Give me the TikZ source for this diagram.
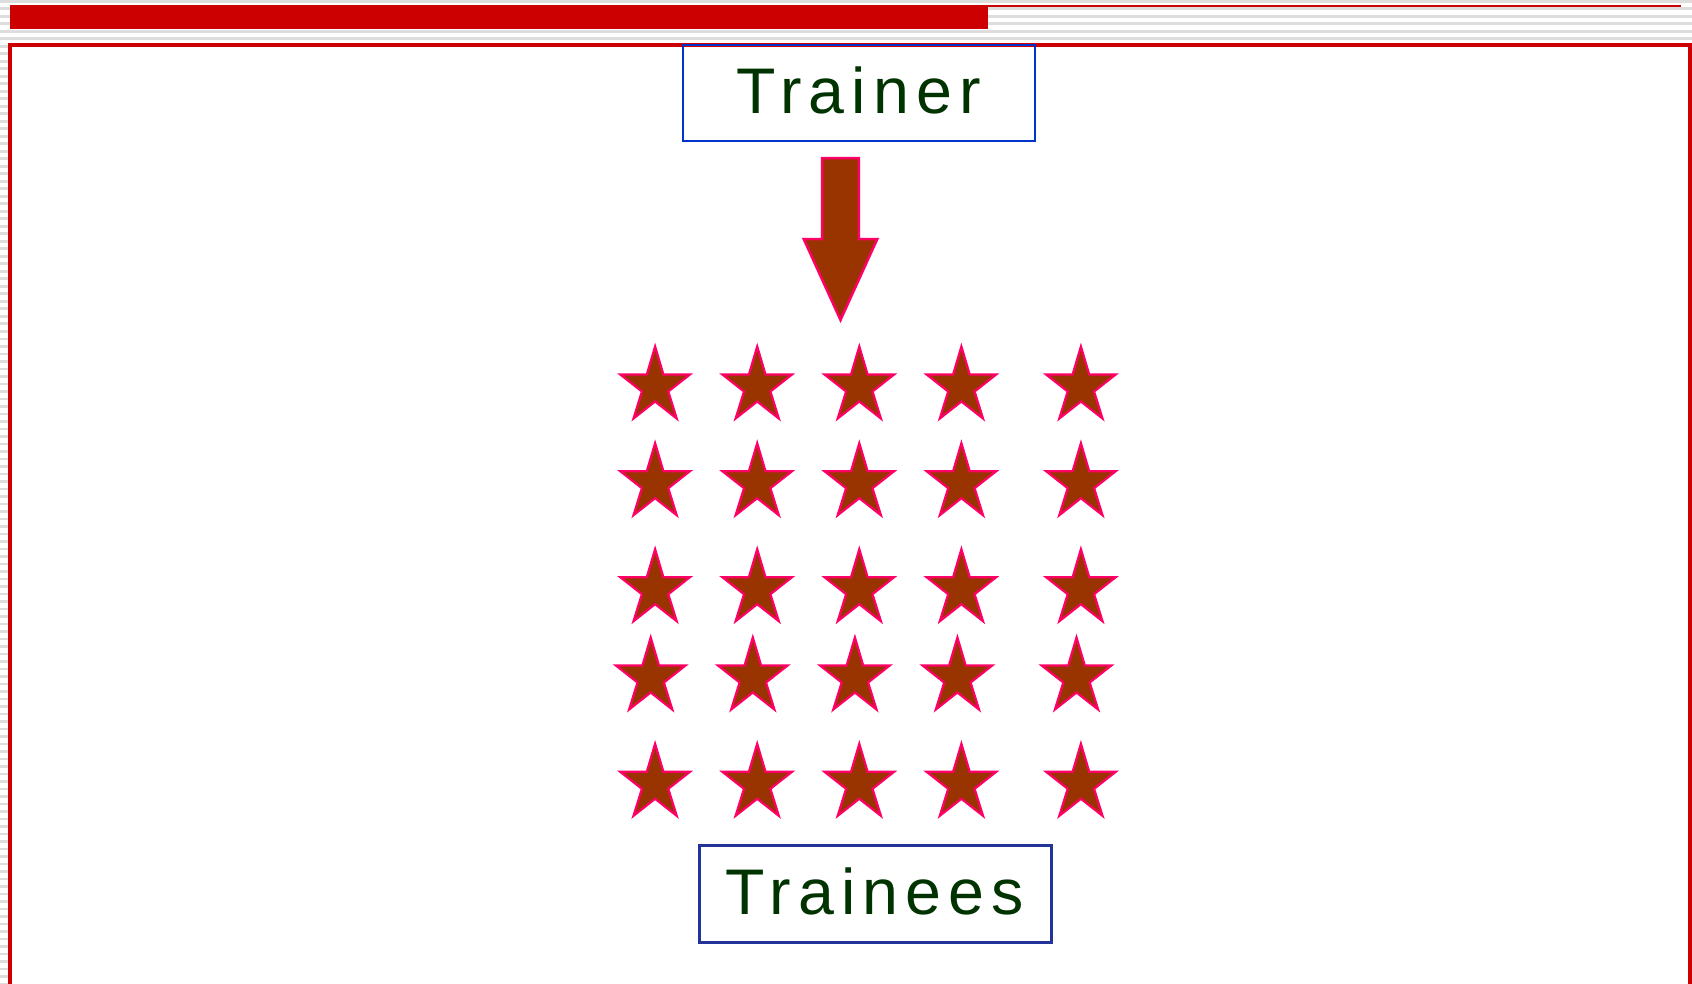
\documentclass[tikz,border=0pt]{standalone}
\usepackage{fontspec}
\setmainfont{Liberation Sans}
\newfontfamily\boxfont[LetterSpace=11]{Liberation Sans}
\definecolor{stripegray}{RGB}{221,221,221}
\definecolor{barred}{RGB}{204,0,0}
\definecolor{starfill}{RGB}{153,51,0}
\definecolor{starline}{RGB}{255,0,102}
\definecolor{textgreen}{RGB}{0,51,0}
\definecolor{blueA}{RGB}{0,51,204}
\definecolor{blueB}{RGB}{34,51,153}
\begin{document}
\begin{tikzpicture}[x=1pt,y=-1pt,
  stripe/.style={fill=stripegray},
  framered/.style={draw=barred},
  starstyle/.style={fill=starfill,draw=starline,line width=2.2pt,line join=miter},
  boxlabel/.style={font=\boxfont\fontsize{64.5}{70}\selectfont,text=textgreen,inner sep=0pt,align=center,text height=46pt,text depth=5pt},
  tstar/.pic={\path[starstyle] (0,1.5) -- (8.3,29.5) -- (34.8,29.5) -- (13.2,46.5) -- (21.6,73.5) -- (0,56.5) -- (-21.6,73.5) -- (-13.2,46.5) -- (-34.8,29.5) -- (-8.3,29.5) -- cycle;}
]
\useasboundingbox (0,0) rectangle (1692,984);
\clip (0,0) rectangle (1692,984);
% striped background
\foreach \i in {0,...,131}{
  \fill[stripe] (0,7.5*\i) rectangle (1692,7.5*\i+2.7);
}
% top bar
\draw[barred,line width=2pt] (10,6) -- (1681,6);
\fill[barred] (10,5) rectangle (988,29);
% frame
\fill[white] (10,45) rectangle (1700,1000);
\draw[framered,line width=4pt] (10,1000) -- (10,45) -- (1690,45) -- (1690,1000);
% boxes
\node[boxlabel,draw=blueA,line width=2pt,minimum width=352pt,minimum height=96pt] (trainer) at (858.5,93.3) {Trainer};
\node[boxlabel,draw=blueB,line width=3pt,minimum width=352pt,minimum height=97pt] (trainees) at (875,893.5) {Trainees};
% arrow
\path[starstyle,line width=2.5pt] (822.2,158.2) -- (858.8,158.2) -- (858.8,239.2) -- (877.2,239.2) -- (840.5,320) -- (803.8,239.2) -- (822.2,239.2) -- cycle;
% stars
\foreach \y in {345,441.7,547.7,742.3}{
  \foreach \x in {655.1,757.2,859.3,961.4,1080.9}{
    \pic at (\x,\y) {tstar};
  }
}
\foreach \x in {650.7,752.8,854.9,957.4,1076.5}{
  \pic at (\x,636) {tstar};
}
\end{tikzpicture}
\end{document}
